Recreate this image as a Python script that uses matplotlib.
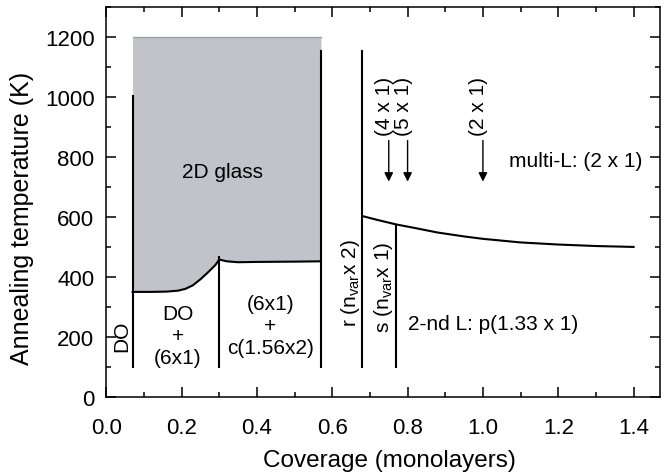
"""Phase diagram: annealing temperature vs coverage."""
import matplotlib
matplotlib.use('Agg')
import matplotlib.pyplot as plt
from matplotlib.ticker import MultipleLocator

plt.rcParams['font.family'] = ['Liberation Sans', 'DejaVu Sans']
plt.rcParams['mathtext.fontset'] = 'custom'
plt.rcParams['mathtext.rm'] = 'Liberation Sans'

# lower edge of the 2D glass region
glass_x = [0.07, 0.12, 0.16, 0.19, 0.21, 0.23, 0.25, 0.27, 0.29, 0.30,
           0.32, 0.35, 0.40, 0.50, 0.57]
glass_y = [350, 350, 351, 354, 360, 372, 392, 415, 440, 458,
           452, 449, 450, 451, 452]
glass_top = 1200

# boundary between 2nd layer and multilayer
multi_x = [0.68, 0.72, 0.77, 0.82, 0.88, 0.95, 1.00, 1.10, 1.20, 1.30, 1.40]
multi_y = [603, 590, 575, 563, 548, 535, 527, 515, 508, 503, 500]

# vertical phase boundaries (coverage, top temperature)
bound_x = [0.07, 0.30, 0.57, 0.68, 0.77]
bound_top = [1005, 468, 1155, 1155, 570]
bound_bottom = 100

# arrows for (n x 1) phases
arrow_x = [0.75, 0.80, 1.00]
arrow_labels = ['(4 x 1)', '(5 x 1)', '(2 x 1)']

fig = plt.figure(figsize=(6.68, 4.77), dpi=100)
ax = fig.add_axes([0.159, 0.166, 0.829, 0.817])

ax.fill_between(glass_x, glass_y, glass_top, color='#c1c3c8', lw=0)
ax.plot([glass_x[0], glass_x[-1]], [glass_top, glass_top],
        color='#9ea3aa', lw=1)
ax.plot(glass_x, glass_y, color='black', lw=1.5)
ax.plot(multi_x, multi_y, color='black', lw=1.5)

for x, top in zip(bound_x, bound_top):
    ax.plot([x, x], [bound_bottom, top], color='black', lw=1.5)

fs = 15
for x, lab in zip(arrow_x, arrow_labels):
    ax.annotate('', xy=(x, 718), xytext=(x, 855),
                arrowprops=dict(arrowstyle='-|>', color='black', lw=1,
                                mutation_scale=13, shrinkA=0, shrinkB=0))
    ax.text(x - 0.012, 872, lab, rotation=90, ha='center', va='bottom',
            fontsize=fs)

ax.text(0.31, 753, '2D glass', ha='center', va='center', fontsize=fs)
ax.text(0.040, 205, 'DO', rotation=90, ha='center', va='center', fontsize=fs)
ax.text(0.19, 203, 'DO\n+\n(6x1)', ha='center', va='center', fontsize=fs,
        linespacing=1.2)
ax.text(0.435, 237, '(6x1)\n+\nc(1.56x2)', ha='center', va='center',
        fontsize=fs, linespacing=1.2)
ax.text(0.648, 383, r'r (n$_\mathrm{var}$x 2)', rotation=90,
        ha='center', va='center', fontsize=fs)
ax.text(0.735, 370, r's (n$_\mathrm{var}$x 1)', rotation=90,
        ha='center', va='center', fontsize=fs)
ax.text(0.80, 243, '2-nd L: p(1.33 x 1)', ha='left', va='center',
        fontsize=fs)
ax.text(1.07, 787, 'multi-L: (2 x 1)', ha='left', va='center', fontsize=fs)

ax.set_xlim(0, 1.47)
ax.set_ylim(0, 1300)
ax.xaxis.set_major_locator(MultipleLocator(0.2))
ax.xaxis.set_minor_locator(MultipleLocator(0.1))
ax.yaxis.set_major_locator(MultipleLocator(200))
ax.yaxis.set_minor_locator(MultipleLocator(100))
ax.xaxis.set_major_formatter(plt.FuncFormatter(lambda v, p: f'{v:.1f}'))
ax.tick_params(which='both', direction='in', top=True, right=True,
               labelsize=16, width=1.1)
ax.tick_params(which='major', length=7)
ax.tick_params(which='minor', length=3.5)
ax.tick_params(axis='x', which='major', pad=14.5)
ax.tick_params(axis='y', which='major', pad=8.5)
for s in ax.spines.values():
    s.set_linewidth(1.1)

ax.set_xlabel('Coverage (monolayers)', fontsize=17.5)
ax.set_ylabel('Annealing temperature (K)', fontsize=18)
ax.xaxis.set_label_coords(0.512, -0.133)
ax.yaxis.set_label_coords(-0.130, 600 / 1300)

fig.savefig('out.png', dpi=100)
